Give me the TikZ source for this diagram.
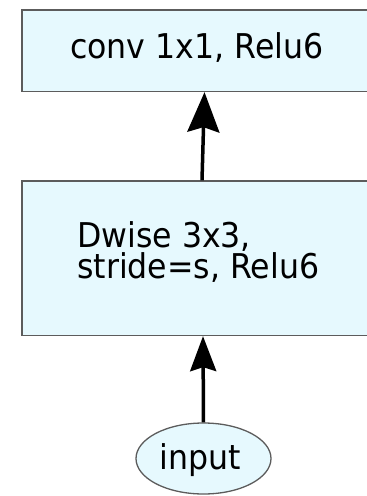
\documentclass[tikz,border=0pt]{standalone}
\usepackage{fontspec}
\setmainfont{DejaVu Sans}
\usetikzlibrary{arrows.meta,shapes.geometric}
\definecolor{boxfill}{HTML}{E6F9FE}
\definecolor{boxline}{HTML}{5C5C5C}
% glyphs in the diagram are drawn a little taller than wide
\newcommand{\tall}[1]{\scalebox{1}[1.08]{#1}}
\tikzset{
  layer/.style={
    draw = boxline,
    fill = boxfill,
    line width = 1.3pt,
    inner sep = 0pt,
    minimum width = 362pt
  },
  blob/.style={
    shape = ellipse,
    draw = boxline,
    fill = boxfill,
    line width = 1.3pt,
    inner sep = 0pt,
    minimum width = 135pt,
    minimum height = 71pt
  },
  caption/.style={
    inner sep = 0pt,
    anchor = base west,
    align = left,
    font = \fontsize{31.6}{31}\selectfont
  },
  flow/.style={
    line width = 3.5pt,
    -{Stealth[length=40pt,width=32pt,inset=5pt]}
  },
  smallflow/.style={
    line width = 3.5pt,
    -{Stealth[length=35pt,width=26pt,inset=4pt]}
  }
}
\begin{document}
\begin{tikzpicture}[x=1pt,y=1pt]
    \clip (0,0) rectangle (367,-496);
    \node[layer, minimum height=81.5pt] (pw) at (203,-50.75) {};
    \node[layer, minimum height=154.5pt] (dw) at (203,-258.25) {};
    \node[blob] (in) at (203.5,-458.5) {};
    \node[caption] (pwtext) at (70,-58) {\tall{conv 1x1, Relu6}};
    \node[caption] (dwtext) at (77,-278) {\tall{Dwise 3x3,}\\\tall{stride=s, Relu6}};
    \node[caption, anchor=base] (intext) at (200,-469) {\tall{input}};
    \draw[smallflow] (in.north) -- (dw.south);
    \draw[flow] ([xshift=-1pt]dw.north) -- ([xshift=1.5pt]pw.south);
\end{tikzpicture}
\end{document}
